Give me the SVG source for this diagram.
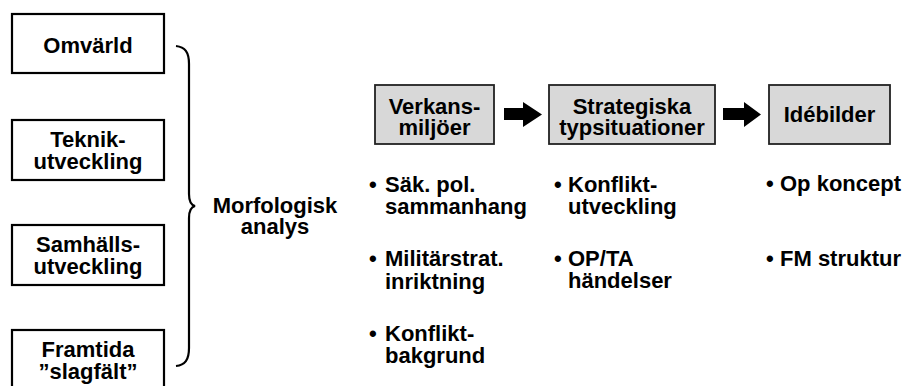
<svg xmlns="http://www.w3.org/2000/svg" width="903" height="386" viewBox="0 0 903 386">
<style>
text{font-family:"Liberation Sans",Arial,sans-serif;font-weight:bold;font-size:22px;fill:#000}
.c{text-anchor:middle}
.wb{fill:#fff;stroke:#000;stroke-width:2.2}
.gb{fill:#d8d8d8;stroke:#222;stroke-width:1.8}
.conn{fill:none;stroke:#000;stroke-width:2.2}
.arr{fill:#000}
</style>
<rect width="903" height="386" fill="#fff"/>
<g id="omvarld"><rect class="wb" x="12" y="14" width="152" height="59"/><text class="c" x="88" y="53">Omvärld</text></g>
<g id="teknik"><rect class="wb" x="12" y="120" width="152" height="60"/><text class="c" x="88" y="147">Teknik-<tspan x="88" dy="22">utveckling</tspan></text></g>
<g id="samhalls"><rect class="wb" x="12" y="225" width="152" height="60"/><text class="c" x="88" y="252">Samhälls-<tspan x="88" dy="22">utveckling</tspan></text></g>
<g id="framtida"><rect class="wb" x="12" y="330" width="152" height="70"/><text class="c" x="88" y="357">Framtida<tspan x="88" dy="22">”slagfält”</tspan></text></g>
<g id="morfologisk"><text class="c" x="275" y="213">Morfologisk<tspan x="275" dy="21">analys</tspan></text></g>
<g id="verkans"><rect class="gb" x="375" y="85" width="119" height="59"/><text class="c" x="434.5" y="114">Verkans-<tspan x="434.5" dy="21">miljöer</tspan></text></g>
<g id="strategiska"><rect class="gb" x="549" y="85" width="166" height="59"/><text class="c" x="632" y="114">Strategiska<tspan x="632" dy="21">typsituationer</tspan></text></g>
<g id="idebilder"><rect class="gb" x="769" y="85" width="121" height="59"/><text class="c" x="829.5" y="122">Idébilder</text></g>
<g id="connectors">
<path class="conn" d="M176,46 C185,47 189,52 189,64 L189,194 C189,201 191,205 195,206 C191,207 189,211 189,218 L189,348 C189,360 185,365 176,366"/>
<polygon class="arr" points="504,108 523,108 523,102 542,114.5 523,127 523,120 504,120"/>
<polygon class="arr" points="723,108 744,108 744,102 761,114.5 744,127 744,120 723,120"/>
</g>
<g id="bullets1">
<text x="369" y="192">•<tspan x="385">Säk. pol.</tspan><tspan x="385" dy="22">sammanhang</tspan></text>
<text x="369" y="266">•<tspan x="385">Militärstrat.</tspan><tspan x="385" dy="23">inriktning</tspan></text>
<text x="369" y="341">•<tspan x="385">Konflikt-</tspan><tspan x="385" dy="22">bakgrund</tspan></text>
</g>
<g id="bullets2">
<text x="554" y="192">•<tspan x="568">Konflikt-</tspan><tspan x="568" dy="22">utveckling</tspan></text>
<text x="554" y="266">•<tspan x="568">OP/TA</tspan><tspan x="568" dy="22">händelser</tspan></text>
</g>
<g id="bullets3">
<text x="766" y="191">•<tspan x="780">Op koncept</tspan></text>
<text x="766" y="266">•<tspan x="780">FM struktur</tspan></text>
</g>
</svg>
